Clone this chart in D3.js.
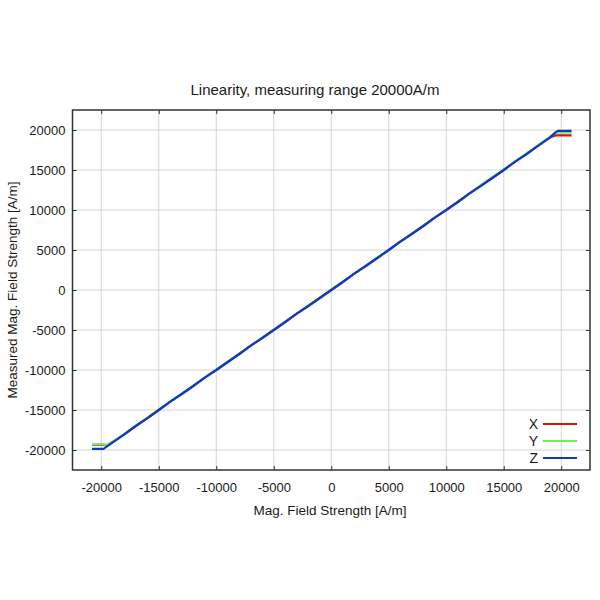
<!DOCTYPE html>
<html><head><meta charset="utf-8">
<script src="https://cdn.jsdelivr.net/npm/d3@7"></script>
<style>body{margin:0;background:#fff}svg{display:block}text{font-family:"Liberation Sans",Arial,sans-serif;fill:#1a1a1a}</style>
</head><body><svg id="c" width="600" height="600"></svg>
<script>
const title = "Linearity, measuring range 20000A/m";
const xLabel = "Mag. Field Strength [A/m]";
const yLabel = "Measured Mag. Field Strength [A/m]";
const tickValues = [-20000,-15000,-10000,-5000,0,5000,10000,15000,20000];
const seriesNames = ["X","Y","Z"];
const seriesColors = ["#dd1010","#6cf060","#1038c8"];
const fieldX = [-20800,-19800,-19500,-19000,-18000,-17000,-16000,-15000,-14000,-13000,-12000,-11000,-10000,-9000,-8000,-7000,-6000,-5000,-4000,-3000,-2000,-1000,0,1000,2000,3000,4000,5000,6000,7000,8000,9000,10000,11000,12000,13000,14000,15000,16000,17000,18000,19000,19500,19700,20900];
const measX = [-19350,-19350,-19400,-19000,-18050,-17000,-16000,-15000,-13950,-13000,-12000,-10950,-10000,-9000,-8000,-6950,-6000,-5000,-4000,-2950,-2000,-1000,0,1000,2050,3000,4000,5000,6050,7000,8000,9050,10000,11000,12050,13050,14000,15000,16050,17050,18050,19050,19330,19330,19330];
const measY = [-19300,-19300,-19400,-19000,-18000,-16950,-16000,-15000,-13950,-13000,-12000,-10950,-10000,-9000,-8000,-6950,-6000,-5000,-4000,-2950,-2000,-1000,0,1000,2050,3000,4000,5000,6050,7000,8000,9050,10000,11000,12050,13100,14100,15050,16100,17100,18100,19150,19660,19660,19660];
const measZ = [-19850,-19850,-19550,-19050,-18050,-17000,-16050,-15000,-13950,-13000,-12000,-10950,-10000,-9000,-8000,-6950,-6000,-5000,-4000,-2950,-2000,-1000,0,1000,2050,3000,4000,5000,6050,7000,8000,9050,10000,11000,12050,13000,14000,15000,16050,17000,18050,19050,19700,19900,19900];
const series = [measX, measY, measZ];

const svg = d3.select("#c");
const L=72.5, R=590, T=110, B=470;
const x = d3.scaleLinear().domain([-22500,22500]).range([L,R]);
const y = d3.scaleLinear().domain([-22500,22500]).range([B,T]);
const fmt = d => String(d);

// grid
const g = svg.append("g");
g.selectAll(".vg").data(tickValues).join("line")
 .attr("x1",d=>x(d)).attr("x2",d=>x(d)).attr("y1",T).attr("y2",B)
 .attr("stroke","#d4d4d4").attr("stroke-width",1);
g.selectAll(".hg").data(tickValues).join("line")
 .attr("y1",d=>y(d)).attr("y2",d=>y(d)).attr("x1",L).attr("x2",R)
 .attr("stroke","#d4d4d4").attr("stroke-width",1);

// series
const line = d3.line().x((d,i)=>x(fieldX[i])).y(d=>y(d));
series.forEach((s,k)=>{
  svg.append("path").datum(s).attr("d",line).attr("fill","none")
   .attr("stroke",seriesColors[k]).attr("stroke-width",2.2).attr("stroke-linejoin","round");
});

// axes (inward ticks)
function styleAxis(sel){
  sel.select(".domain").remove();
  sel.selectAll(".tick line").attr("stroke","#333").attr("stroke-width",1);
  sel.selectAll(".tick text").attr("font-size",13).attr("fill","#1a1a1a")
   .style("font-family",'"Liberation Sans",Arial,sans-serif');
}
svg.append("g").attr("transform",`translate(0,${B})`)
 .call(d3.axisBottom(x).tickValues(tickValues).tickSize(-4).tickPadding(13).tickFormat(fmt)).call(styleAxis);
svg.append("g").attr("transform",`translate(${L},0)`)
 .call(d3.axisLeft(y).tickValues(tickValues).tickSize(-4).tickPadding(7).tickFormat(fmt)).call(styleAxis)
 .selectAll(".tick text").attr("dy","0.35em");
svg.append("g").attr("transform",`translate(0,${T})`)
 .call(d3.axisTop(x).tickValues(tickValues).tickSize(-4).tickFormat("")).call(styleAxis);
svg.append("g").attr("transform",`translate(${R},0)`)
 .call(d3.axisRight(y).tickValues(tickValues).tickSize(-4).tickFormat("")).call(styleAxis);

// frame
svg.append("rect").attr("x",L).attr("y",T).attr("width",R-L).attr("height",B-T)
 .attr("fill","none").attr("stroke","#333").attr("stroke-width",1.5);

// legend
seriesNames.forEach((n,k)=>{
  const ly = 424 + k*17;
  svg.append("text").attr("x",538).attr("y",ly+5).attr("text-anchor","end")
   .attr("font-size",14).text(n);
  svg.append("line").attr("x1",543).attr("x2",577).attr("y1",ly).attr("y2",ly)
   .attr("stroke",seriesColors[k]).attr("stroke-width",2.2);
});

// titles
svg.append("text").attr("x",315).attr("y",95).attr("text-anchor","middle").attr("font-size",15).text(title);
svg.append("text").attr("x",330).attr("y",515).attr("text-anchor","middle").attr("font-size",13.5).text(xLabel);
svg.append("text").attr("transform","translate(17,290) rotate(-90)").attr("text-anchor","middle").attr("font-size",13.5).text(yLabel);
</script></body></html>
